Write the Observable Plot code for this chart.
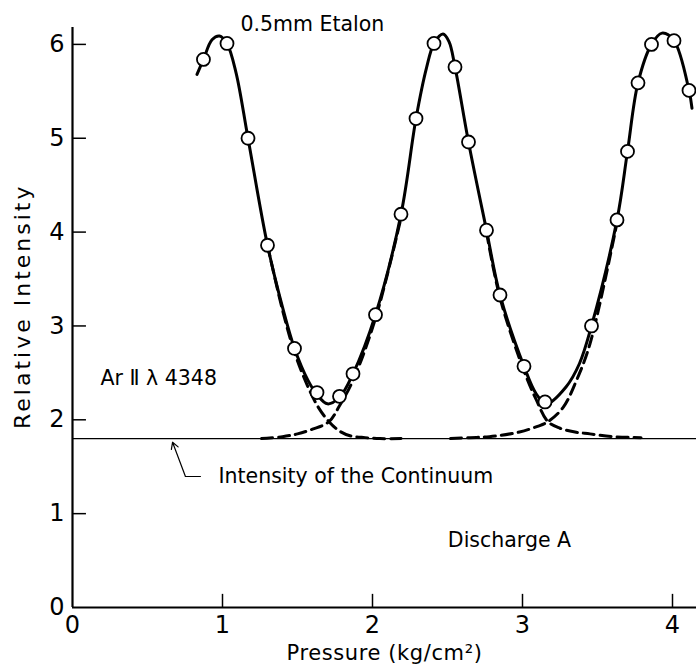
<!DOCTYPE html>
<html>
<head>
<meta charset="utf-8">
<script src="https://cdn.jsdelivr.net/npm/d3@7"></script>
<script src="https://cdn.jsdelivr.net/npm/@observablehq/plot@0.6"></script>
<style>
  html, body { margin: 0; padding: 0; background: #fff; }
  #chart svg { display: block; }
</style>
</head>
<body>
<div id="chart"></div>
<script>
// Measured points (open circles)
const pointX = [0.873, 1.03, 1.17, 1.30, 1.48, 1.63, 1.78, 1.87, 2.02, 2.19, 2.29, 2.41, 2.55, 2.64, 2.76, 2.85, 3.01, 3.15, 3.46, 3.63, 3.70, 3.77, 3.86, 4.01, 4.11];
const pointY = [5.84, 6.01, 5.00, 3.86, 2.76, 2.29, 2.25, 2.49, 3.12, 4.19, 5.21, 6.01, 5.76, 4.96, 4.02, 3.33, 2.57, 2.19, 3.00, 4.13, 4.86, 5.59, 6.00, 6.04, 5.51];

// Solid curve drawn through the points
const solidX = [0.83, 0.873, 0.93, 0.98, 1.03, 1.09, 1.17, 1.30, 1.40, 1.48, 1.57, 1.63, 1.70, 1.78, 1.87, 2.02, 2.19, 2.29, 2.36, 2.41, 2.47, 2.51, 2.55, 2.64, 2.76, 2.85, 3.01, 3.09, 3.16, 3.29, 3.38, 3.46, 3.63, 3.70, 3.77, 3.86, 3.93, 4.01, 4.11, 4.13];
const solidY = [5.68, 5.84, 6.05, 6.09, 6.01, 5.70, 5.00, 3.86, 3.20, 2.76, 2.42, 2.27, 2.17, 2.24, 2.49, 3.12, 4.19, 5.21, 5.75, 6.01, 6.11, 6.03, 5.76, 4.96, 4.02, 3.33, 2.57, 2.28, 2.17, 2.35, 2.60, 3.00, 4.13, 4.86, 5.59, 6.00, 6.12, 6.04, 5.51, 5.32];

// Dashed component curves
const dash1X = [1.30, 1.40, 1.48, 1.57, 1.64, 1.71, 1.78, 1.85, 1.95, 2.05, 2.19];
const dash1Y = [3.86, 3.17, 2.72, 2.35, 2.13, 1.98, 1.88, 1.83, 1.81, 1.80, 1.80];
const dash2X = [1.26, 1.40, 1.50, 1.60, 1.71, 1.78, 1.87, 2.02, 2.19];
const dash2Y = [1.80, 1.82, 1.85, 1.90, 1.98, 2.15, 2.42, 3.08, 4.15];
const dash3X = [2.76, 2.85, 3.01, 3.09, 3.17, 3.25, 3.35, 3.45, 3.60, 3.79];
const dash3Y = [4.00, 3.30, 2.52, 2.22, 1.98, 1.91, 1.87, 1.85, 1.82, 1.81];
const dash4X = [2.52, 2.65, 2.78, 2.98, 3.10, 3.17, 3.27, 3.36, 3.45, 3.63];
const dash4Y = [1.80, 1.81, 1.82, 1.87, 1.93, 1.98, 2.13, 2.42, 2.81, 4.10];

const continuum = 1.8;
const xTicks = [0, 1, 2, 3, 4];
const yTicks = [0, 1, 2, 3, 4, 5, 6];

// Annotation texts and anchors
const labels = ["0.5mm Etalon", "Ar \u2161 \u03bb 4348", "Intensity of the Continuum", "Discharge A"];
const labelX = [1.12, 0.187, 0.973, 2.913];
const labelY = [6.21, 2.44, 1.396, 0.714];
const labelAnchor = ["start", "start", "start", "middle"];
const leaderX = [0.853, 0.753, 0.667];
const leaderY = [1.396, 1.396, 1.76];
const xTitle = "Pressure (kg/cm\u00b2)";
const yTitle = "Relative Intensity";

const pts = pointX.map((x, i) => ({x, y: pointY[i]}));
const solid = solidX.map((x, i) => ({x, y: solidY[i]}));
const dashed = [
  ...dash1X.map((x, i) => ({x, y: dash1Y[i], s: "a"})),
  ...dash2X.map((x, i) => ({x, y: dash2Y[i], s: "b"})),
  ...dash3X.map((x, i) => ({x, y: dash3Y[i], s: "c"})),
  ...dash4X.map((x, i) => ({x, y: dash4Y[i], s: "d"}))
];
const ann = labels.map((t, i) => ({t, x: labelX[i], y: labelY[i], a: labelAnchor[i]}));

const fontFam = "DejaVu Sans, sans-serif";

const chart = Plot.plot({
  width: 696,
  height: 668,
  marginLeft: 72,
  marginRight: 0,
  marginTop: 27,
  marginBottom: 61,
  style: {fontFamily: fontFam, background: "#fff", color: "#000"},
  x: {domain: [0, 4.16], label: null},
  y: {domain: [0, 6.18], label: null},
  marks: [
    Plot.axisX(xTicks, {tickSize: 0, tickPadding: 8, fontSize: 24, label: null, tickFormat: d => String(d)}),
    Plot.axisY(yTicks, {tickSize: 0, tickPadding: 8, fontSize: 24, label: null, tickFormat: d => String(d)}),
    // inward ticks
    Plot.ruleY(yTicks.filter(d => d > 0), {x1: 0, x2: 0.093, stroke: "#000", strokeWidth: 1.5}),
    Plot.ruleX(xTicks.filter(d => d > 0), {y1: 0, y2: 0.14, stroke: "#000", strokeWidth: 1.5}),
    // axis lines
    Plot.ruleX([0], {y1: 0, y2: 6.18, stroke: "#000", strokeWidth: 2.2}),
    Plot.ruleY([0], {stroke: "#000", strokeWidth: 2.2}),
    // continuum
    Plot.ruleY([continuum], {stroke: "#000", strokeWidth: 1.2}),
    // dashed components
    Plot.line(dashed, {x: "x", y: "y", z: "s", curve: "catmull-rom", stroke: "#000", strokeWidth: 3, strokeDasharray: "11,6"}),
    // solid fit
    Plot.line(solid, {x: "x", y: "y", curve: "catmull-rom", stroke: "#000", strokeWidth: 3}),
    // points
    Plot.dot(pts, {x: "x", y: "y", r: 6.5, fill: "#fff", stroke: "#000", strokeWidth: 1.8}),
    // leader
    Plot.line(leaderX.slice(0, 2).map((x, i) => ({x, y: leaderY[i]})), {x: "x", y: "y", stroke: "#000", strokeWidth: 1.2}),
    Plot.arrow([{x1: leaderX[1], y1: leaderY[1], x2: leaderX[2], y2: leaderY[2]}], {x1: "x1", y1: "y1", x2: "x2", y2: "y2", stroke: "#000", strokeWidth: 1.2, headLength: 9}),
    // annotations
    Plot.text(ann.filter(d => d.a === "start"), {x: "x", y: "y", text: "t", textAnchor: "start", lineAnchor: "middle", fontSize: 20.5, fill: "#000"}),
    Plot.text(ann.filter(d => d.a === "middle"), {x: "x", y: "y", text: "t", textAnchor: "middle", lineAnchor: "middle", fontSize: 20.5, fill: "#000"}),
    Plot.text([xTitle], {x: 2.08, y: -0.49, text: d => d, fontSize: 21, lineAnchor: "middle", fill: "#000"}),
    Plot.text([yTitle], {x: -0.33, y: 3.21, text: d => d, fontSize: 22, rotate: -90, lineAnchor: "middle", fill: "#000"})
  ]
});
d3.select(chart).selectAll("text").each(function() {
  const t = this.textContent;
  if (t === yTitle) this.setAttribute("letter-spacing", "3px");
  if (t === xTitle) this.setAttribute("letter-spacing", "0.6px");
});
document.getElementById("chart").appendChild(chart);
</script>
</body>
</html>
